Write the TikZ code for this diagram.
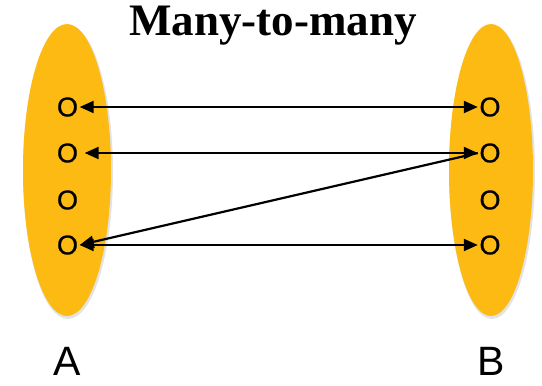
\documentclass[tikz,border=0pt]{standalone}
\usepackage{fontspec}
\setmainfont{Liberation Serif}
\newfontfamily\arialf{Liberation Sans}
\newfontfamily\arialo[FakeBold=0.8]{Liberation Sans}
\usetikzlibrary{arrows.meta}
\definecolor{setorange}{RGB}{252,186,18}
\begin{document}
\begin{tikzpicture}[x=1pt,y=-1pt,
  setshape/.style={fill=setorange,draw=none},
  elem/.style={font=\arialo\fontsize{27}{27}\selectfont,inner sep=1.5pt},
  conn/.style={line width=2.2pt,{Triangle[length=14pt,width=12pt]}-{Triangle[length=14pt,width=12pt]}},
  oneway/.style={line width=2.2pt,-{Triangle[length=14pt,width=12pt]}},
  setlabel/.style={font=\arialf\fontsize{41}{41}\selectfont,inner sep=0pt},
  titlestyle/.style={font=\bfseries\fontsize{45}{45}\selectfont}]
\useasboundingbox (0,0) rectangle (542,386);
\fill[gray!22] (68,172) ellipse [x radius=45, y radius=147];
\fill[gray!22] (492,172) ellipse [x radius=43, y radius=147];
\fill[setshape] (67,170) ellipse [x radius=44, y radius=146];
\fill[setshape] (491,170) ellipse [x radius=42, y radius=146];
\node[titlestyle] (title) at (273,26) {Many-to-many};
\node[elem] (a1) at (67.5,107) {O};
\node[elem] (a2) at (67.5,153) {O};
\node[elem] (a3) at (67.5,200) {O};
\node[elem] (a4) at (67.5,245) {O};
\node[elem] (b1) at (490,107) {O};
\node[elem] (b2) at (490,153) {O};
\node[elem] (b3) at (490,200) {O};
\node[elem] (b4) at (490,245) {O};
\draw[conn] (a1.east) -- (b1.west);
\draw[conn] ([xshift=5pt]a2.east) -- (b2.west);
\draw[oneway] (b2.west) -- (a4.east);
\draw[conn] (a4.east) -- (b4.west);
\node[setlabel] (la) at (67.5,361) {A};
\node[setlabel] (lb) at (491,361) {B};
\end{tikzpicture}
\end{document}
